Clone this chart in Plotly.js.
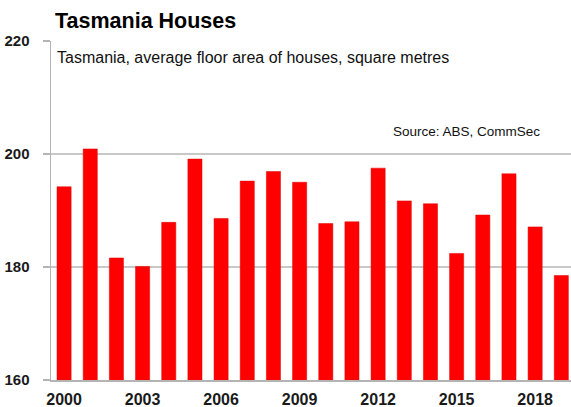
<!DOCTYPE html>
<html>
<head>
<meta charset="utf-8">
<script src="https://cdn.plot.ly/plotly-3.0.1.min.js"></script>
<style>html,body{margin:0;padding:0;overflow:hidden;background:#fff;}</style>
</head>
<body>
<div id="chart" style="width:571px;height:407px;"></div>
<script>
const years = [2000,2001,2002,2003,2004,2005,2006,2007,2008,2009,2010,2011,2012,2013,2014,2015,2016,2017,2018,2019];
const floorArea = [194.2,200.9,181.6,180.1,187.9,199.1,188.6,195.2,196.9,195.0,187.7,188.0,197.5,191.7,191.2,182.4,189.2,196.5,187.1,178.5];
const xTicks = [2000,2003,2006,2009,2012,2015,2018];
const yTicks = [160,180,200,220];

const trace = {
  type: 'bar',
  x: years,
  y: floorArea,
  width: 0.54,
  marker: {color: '#ff0000', line: {color: '#e00000', width: 0.5}},
  hoverinfo: 'x+y'
};

const layout = {
  width: 571, height: 407,
  margin: {l: 51, r: 0, t: 41, b: 27},
  paper_bgcolor: '#fff', plot_bgcolor: '#fff',
  showlegend: false,
  title: {
    text: '<b>Tasmania Houses</b>',
    font: {family: 'Liberation Sans, Arial, sans-serif', size: 21.5, color: '#000'},
    x: 55/571, xanchor: 'left', xref: 'container',
    y: 1 - 20/407, yanchor: 'middle', yref: 'container'
  },
  xaxis: {
    range: [1999.5, 2019.37],
    tickvals: xTicks,
    ticktext: xTicks.map(String),
    tickfont: {family: 'Liberation Sans, Arial, sans-serif', size: 16, color: '#1a1a1a', weight: 'bold'},
    ticks: 'outside', ticklen: 4, tickcolor: 'rgba(0,0,0,0)',
    showgrid: false, zeroline: false,
    showline: true, linecolor: '#b4b4b4', linewidth: 1.5
  },
  yaxis: {
    range: [160, 220],
    tickvals: yTicks,
    tickfont: {family: 'Liberation Sans, Arial, sans-serif', size: 15, color: '#1a1a1a', weight: 'bold'},
    ticks: 'outside', ticklen: 7, tickcolor: '#b4b4b4', tickwidth: 1.5,
    ticklabelstandoff: 10,
    showgrid: true, gridcolor: '#c8c8c8', gridwidth: 1.5,
    zeroline: false,
    showline: true, linecolor: '#b4b4b4', linewidth: 1.5
  },
  annotations: [
    {
      text: 'Tasmania, average floor area of houses, square metres',
      xref: 'paper', yref: 'paper', x: 0.008, y: 0.952,
      xanchor: 'left', yanchor: 'middle', showarrow: false,
      font: {family: 'Liberation Sans, Arial, sans-serif', size: 16, color: '#111'}
    },
    {
      text: 'Source: ABS, CommSec',
      xref: 'paper', yref: 'paper', x: 0.944, y: 0.734,
      xanchor: 'right', yanchor: 'middle', showarrow: false,
      font: {family: 'Liberation Sans, Arial, sans-serif', size: 13.5, color: '#111'}
    }
  ]
};

Plotly.newPlot('chart', [trace], layout, {displayModeBar: false, staticPlot: true});
</script>
</body>
</html>
